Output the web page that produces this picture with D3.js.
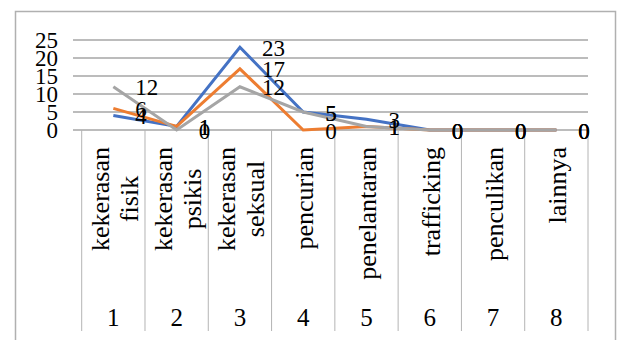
<!DOCTYPE html>
<html><head><meta charset="utf-8">
<script src="https://cdn.jsdelivr.net/npm/d3@7"></script>
<style>body{margin:0;background:#fff}svg{display:block}</style>
</head><body>
<svg id="c" width="617" height="340"></svg>
<script>
const categories = ["kekerasan fisik","kekerasan psikis","kekerasan seksual","pencurian","penelantaran","trafficking","penculikan","lainnya"];
const categoryLines = [["kekerasan","fisik"],["kekerasan","psikis"],["kekerasan","seksual"],["pencurian"],["penelantaran"],["trafficking"],["penculikan"],["lainnya"]];
const categoryNumbers = ["1","2","3","4","5","6","7","8"];
const seriesA = [4, 1, 23, 5, 3, 0, 0, 0];
const seriesB = [6, 1, 17, 0, 1, 0, 0, 0];
const seriesC = [12, 0, 12, 5, 1, 0, 0, 0];
const yTicks = [0, 5, 10, 15, 20, 25];
const series = [
  {values: seriesA, color: "#4472C4"},
  {values: seriesB, color: "#ED7D31"},
  {values: seriesC, color: "#A5A5A5"}
];

const svg = d3.select("#c");
const font = "'Liberation Serif','Times New Roman',serif";
const x = d3.scaleBand().domain(categories).range([81.7, 588]);
const y = d3.scaleLinear().domain([0, 25]).range([130, 40]);
const cx = c => x(c) + x.bandwidth() / 2;

// outer border
svg.append("rect").attr("x", 15.5).attr("y", 11.5).attr("width", 600).attr("height", 350)
  .attr("fill", "none").attr("stroke", "#B0B0B0").attr("stroke-width", 1.5);

// gridlines
svg.append("g").selectAll("line").data(yTicks).join("line")
  .attr("x1", 73).attr("x2", 588)
  .attr("y1", d => y(d)).attr("y2", d => y(d))
  .attr("stroke", "#A6A6A6").attr("stroke-width", 1.3);

// y labels
svg.append("g").selectAll("text").data(yTicks).join("text")
  .attr("x", 58).attr("y", d => y(d))
  .attr("text-anchor", "end").attr("dominant-baseline", "central")
  .attr("font-family", font).attr("font-size", 23).attr("fill", "#000")
  .text(d => d);

// category separator lines
const bounds = categories.map(c => x(c)).concat([x.range()[1]]);
svg.append("g").selectAll("line").data(bounds).join("line")
  .attr("x1", d => d).attr("x2", d => d)
  .attr("y1", 130).attr("y2", 331)
  .attr("stroke", "#B4B4B4").attr("stroke-width", 1);

// category labels (rotated)
categories.forEach((c, i) => {
  const lines = categoryLines[i];
  const g = svg.append("g").attr("transform", `translate(${cx(c)},147) rotate(-90)`);
  const texts = g.selectAll("text").data(lines).join("text")
    .attr("font-family", font).attr("font-size", 26).attr("fill", "#000")
    .attr("dominant-baseline", "central")
    .attr("y", (d, j) => (j - (lines.length - 1) / 2) * 29 + 1.5)
    .text(d => d);
  let w = 0;
  texts.each(function(){ w = Math.max(w, this.getComputedTextLength()); });
  texts.attr("x", -w / 2).attr("text-anchor", "middle");
});

// category numbers
svg.append("g").selectAll("text").data(categories).join("text")
  .attr("x", d => cx(d)).attr("y", 317)
  .attr("text-anchor", "middle").attr("dominant-baseline", "central")
  .attr("font-family", font).attr("font-size", 25).attr("fill", "#000")
  .text((d, i) => categoryNumbers[i]);

// lines
const line = d3.line().x((d, i) => cx(categories[i])).y(d => y(d));
series.forEach(s => {
  svg.append("path").datum(s.values).attr("d", line)
    .attr("fill", "none").attr("stroke", s.color).attr("stroke-width", 3);
});

// data labels
series.forEach(s => {
  svg.append("g").selectAll("text").data(s.values).join("text")
    .attr("x", (d, i) => cx(categories[i]) + 22).attr("y", d => y(d) + 1)
    .attr("dominant-baseline", "central")
    .attr("font-family", font).attr("font-size", 23).attr("fill", "#000")
    .text(d => d);
});
</script>
</body></html>
